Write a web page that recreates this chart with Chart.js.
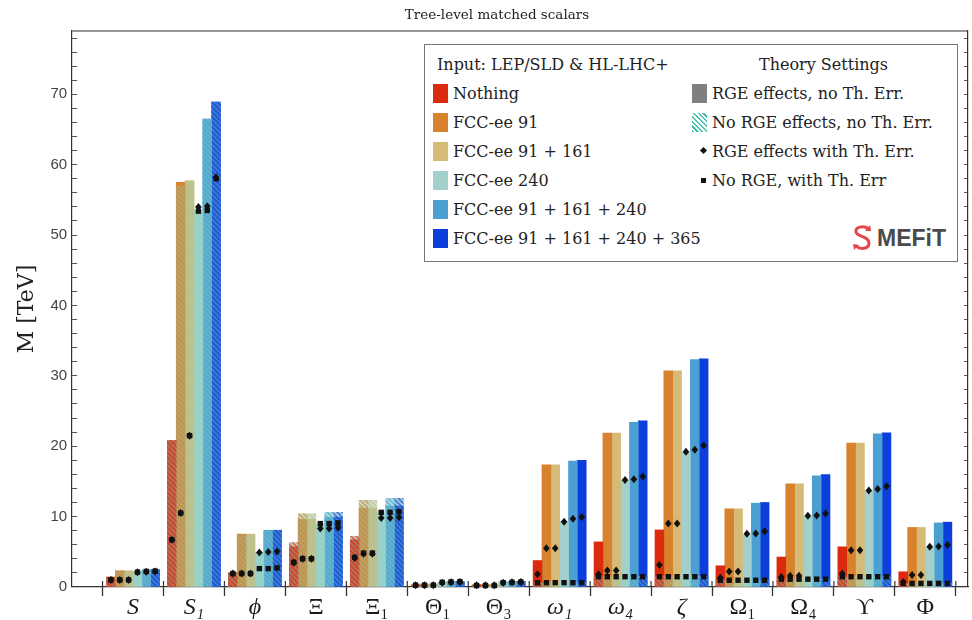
<!DOCTYPE html>
<html lang="en">
<head>
    <meta charset="UTF-8" />
    <title>Tree-level matched scalars</title>
    <script src="https://cdn.jsdelivr.net/npm/chart.js"></script>
    <style>
        html, body { margin: 0; padding: 0; background: #fff; }
        #wrap { position: relative; width: 972px; height: 620px; }
        #plotTitle {
            position: absolute; left: 0; top: 5px; width: 994px; text-align: center; line-height: 18px;
            font-family: "DejaVu Serif", serif; font-size: 13.5px; color: #222;
        }
        #legendBox {
            position: absolute; left: 424px; top: 44px; width: 532px; height: 216px;
            border: 1px solid #777; background: #fff;
            font-family: "DejaVu Serif", serif; font-size: 16px; color: #222;
        }
        #legendBox .row { position: absolute; height: 29px; line-height: 29px; white-space: nowrap; }
        #legendBox .sw { position: absolute; left: 0; top: 5px; width: 15px; height: 19px; }
        #legendBox .txt { position: absolute; left: 20px; top: 0; }
        .mk { position: absolute; background: #111; }
        #logo { position: absolute; left: 426px; top: 178px; height: 30px; }
        #logo span {
            position: absolute; left: 26px; top: 0; line-height: 30px;
            font-family: "Liberation Sans", sans-serif; font-weight: bold; font-size: 23px; color: #4a4a4a;
        }
    </style>
</head>
<body>
<div id="wrap">
    <canvas id="chart" width="972" height="620"></canvas>
    <div id="plotTitle">Tree-level matched scalars</div>
    <div id="legendBox"></div>
</div>

<script>
    const categories = ['S', 'S₁', 'ϕ', 'Ξ', 'Ξ₁', 'Θ₁', 'Θ₃', 'ω₁', 'ω₄', 'ζ', 'Ω₁', 'Ω₄', 'ϒ', 'Φ'];
    const italicLabels = ['S', 'S₁', 'ϕ', 'ω₁', 'ω₄', 'ζ'];
    const scenarios = ['Nothing', 'FCC-ee 91', 'FCC-ee 91 + 161', 'FCC-ee 240', 'FCC-ee 91 + 161 + 240', 'FCC-ee 91 + 161 + 240 + 365'];
    const colors = ['#dc2a0e', '#d9822e', '#d6ba77', '#a3d0cc', '#4c9fd2', '#0b3edb'];

    // RGE effects, no Th. Err. (solid bars)
    const rgeNothing = [1.4, 20.8, 2.0, 5.7, 6.7, 0.3, 0.3, 3.75, 6.4, 8.1, 3.0, 4.25, 5.7, 2.15];
    const rgeZ       = [2.3, 57.5, 7.5, 9.6, 11.2, 0.4, 0.35, 17.35, 21.85, 30.7, 11.1, 14.65, 20.45, 8.45];
    const rgeZWW     = [2.3, 57.7, 7.5, 9.6, 11.2, 0.4, 0.35, 17.35, 21.85, 30.7, 11.1, 14.65, 20.45, 8.45];
    const rgeH       = [2.1, 53.5, 4.9, 8.7, 10.4, 0.7, 0.7, 9.3, 15.2, 19.2, 7.5, 10.1, 13.7, 5.7];
    const rgeZWWH    = [2.4, 66.5, 8.05, 9.9, 11.5, 0.75, 0.75, 17.9, 23.4, 32.3, 11.9, 15.8, 21.75, 9.1];
    const rgeAll     = [2.45, 68.9, 8.05, 9.9, 11.5, 0.8, 0.8, 18.0, 23.6, 32.4, 12.0, 15.95, 21.9, 9.2];

    // No RGE effects, no Th. Err. (hatched bars)
    const noRgeNothing = [1.4, 20.8, 2.0, 6.3, 7.2, 0.3, 0.3, 0.6, 1.45, 1.45, 0.95, 1.1, 1.45, 0.5];
    const noRgeZ       = [2.2, 57.0, 7.4, 10.4, 12.3, 0.4, 0.35, 0.6, 1.45, 1.45, 0.95, 1.1, 1.45, 0.5];
    const noRgeZWW     = [2.2, 57.7, 7.4, 10.4, 12.3, 0.4, 0.35, 0.6, 1.45, 1.45, 0.95, 1.1, 1.45, 0.5];
    const noRgeH       = [2.1, 53.5, 4.9, 9.0, 10.8, 0.7, 0.7, 0.65, 1.5, 1.5, 1.0, 1.15, 1.5, 0.55];
    const noRgeZWWH    = [2.4, 66.5, 8.0, 10.6, 12.6, 0.75, 0.75, 0.65, 1.5, 1.5, 1.0, 1.15, 1.5, 0.55];
    const noRgeAll     = [2.45, 68.9, 8.05, 10.6, 12.6, 0.8, 0.8, 0.65, 1.5, 1.5, 1.0, 1.15, 1.5, 0.55];

    // RGE effects with Th. Err. (diamonds)
    const thRgeNothing = [1.0, 6.7, 1.9, 3.45, 4.1, 0.25, 0.25, 1.8, 1.8, 3.1, 1.3, 1.4, 1.9, 0.7];
    const thRgeZ       = [1.0, 10.5, 1.9, 4.0, 4.7, 0.25, 0.25, 5.5, 2.35, 9.0, 2.2, 1.6, 5.2, 1.7];
    const thRgeZWW     = [1.0, 21.5, 1.9, 4.0, 4.7, 0.25, 0.25, 5.5, 2.35, 9.0, 2.2, 1.6, 5.2, 1.7];
    const thRgeH       = [2.1, 54.0, 4.9, 8.3, 9.8, 0.6, 0.6, 9.25, 15.2, 19.2, 7.55, 10.1, 13.7, 5.7];
    const thRgeZWWH    = [2.15, 54.1, 4.95, 8.3, 9.8, 0.65, 0.65, 9.7, 15.3, 19.5, 7.6, 10.15, 13.9, 5.75];
    const thRgeAll     = [2.2, 58.2, 5.05, 8.4, 9.9, 0.7, 0.7, 9.95, 15.7, 20.1, 7.9, 10.45, 14.3, 5.95];

    // No RGE, with Th. Err (squares)
    const thNoRgeNothing = [1.0, 6.7, 1.9, 3.5, 4.2, 0.25, 0.2, 0.6, 1.45, 1.45, 0.95, 1.1, 1.45, 0.5];
    const thNoRgeZ       = [1.0, 10.5, 1.9, 4.0, 4.8, 0.25, 0.2, 0.6, 1.45, 1.45, 0.95, 1.1, 1.45, 0.5];
    const thNoRgeZWW     = [1.0, 21.5, 1.9, 4.0, 4.8, 0.25, 0.2, 0.6, 1.45, 1.45, 0.95, 1.1, 1.45, 0.5];
    const thNoRgeH       = [2.1, 53.4, 2.6, 9.0, 10.6, 0.65, 0.6, 0.6, 1.45, 1.45, 0.95, 1.1, 1.45, 0.5];
    const thNoRgeZWWH    = [2.2, 53.5, 2.6, 9.0, 10.6, 0.7, 0.65, 0.6, 1.45, 1.45, 0.95, 1.1, 1.45, 0.5];
    const thNoRgeAll     = [2.25, 58.0, 2.7, 9.1, 10.7, 0.75, 0.7, 0.6, 1.45, 1.45, 0.95, 1.1, 1.45, 0.5];

    const yTicks = [0, 10, 20, 30, 40, 50, 60, 70];

    const rgeBars = [rgeNothing, rgeZ, rgeZWW, rgeH, rgeZWWH, rgeAll];
    const noRgeBars = [noRgeNothing, noRgeZ, noRgeZWW, noRgeH, noRgeZWWH, noRgeAll];
    const thRge = [thRgeNothing, thRgeZ, thRgeZWW, thRgeH, thRgeZWWH, thRgeAll];
    const thNoRge = [thNoRgeNothing, thNoRgeZ, thNoRgeZWW, thNoRgeH, thNoRgeZWWH, thNoRgeAll];

    // diagonal hatch: half-transparent bar colour stripes with pale teal gaps,
    // so it reads as the bar colour over a solid bar and as a light teal hatch on white
    function hatch(color) {
        const c = document.createElement('canvas');
        c.width = 5; c.height = 5;
        const g = c.getContext('2d');
        g.fillStyle = 'rgba(130, 212, 196, 0.5)';
        g.fillRect(0, 0, 5, 5);
        g.globalAlpha = 0.6;
        g.strokeStyle = color;
        g.lineWidth = 2.4;
        g.beginPath();
        for (let k = -5; k <= 5; k += 5) {
            g.moveTo(k - 1, -1);
            g.lineTo(k + 6, 6);
        }
        g.stroke();
        return g.createPattern(c, 'repeat');
    }

    const points = arr => arr.map((v, i) => ({ x: i + 1, y: v }));

    const datasets = [];
    scenarios.forEach((name, k) => {
        const common = { stack: 's' + k, barThickness: 8.85, borderWidth: 0 };
        datasets.push({ ...common, label: name, data: points(rgeBars[k]), backgroundColor: colors[k], order: 2 });
        datasets.push({ ...common, label: name + ' (no RGE)', data: points(noRgeBars[k]), backgroundColor: hatch(colors[k]), order: 1 });
        datasets.push({ ...common, label: name + ' (RGE, Th. Err.)', data: points(thRge[k]), backgroundColor: 'rgba(0,0,0,0)', marker: 'diamond', order: 0 });
        datasets.push({ ...common, label: name + ' (no RGE, Th. Err.)', data: points(thNoRge[k]), backgroundColor: 'rgba(0,0,0,0)', marker: 'square', order: 0 });
    });

    // markers sit on top of the (invisible) bars of their dataset
    const markerPlugin = {
        id: 'markers',
        afterDatasetsDraw(chart) {
            const ctx = chart.ctx;
            ctx.save();
            ctx.fillStyle = '#111';
            chart.data.datasets.forEach((ds, i) => {
                if (!ds.marker) return;
                chart.getDatasetMeta(i).data.forEach(el => {
                    ctx.beginPath();
                    if (ds.marker === 'diamond') {
                        ctx.moveTo(el.x, el.y - 4);
                        ctx.lineTo(el.x + 3.3, el.y);
                        ctx.lineTo(el.x, el.y + 4);
                        ctx.lineTo(el.x - 3.3, el.y);
                        ctx.closePath();
                    } else {
                        ctx.rect(el.x - 2.7, el.y - 2.7, 5.4, 5.4);
                    }
                    ctx.fill();
                });
            });
            ctx.restore();
        }
    };

    // top edge of the frame, and the category dividers poking up through the x axis
    const framePlugin = {
        id: 'frame',
        afterDraw(chart) {
            const { ctx, chartArea: a } = chart;
            const xs = chart.scales.x;
            ctx.save();
            ctx.strokeStyle = '#333';
            ctx.lineWidth = 1.2;
            ctx.beginPath();
            ctx.moveTo(a.left, a.top);
            ctx.lineTo(a.right, a.top);
            xs.ticks.forEach(t => {
                if (Number.isInteger(t.value)) return;
                const px = xs.getPixelForValue(t.value);
                ctx.moveTo(px, a.bottom);
                ctx.lineTo(px, a.bottom - 6);
            });
            ctx.stroke();
            ctx.restore();
        }
    };

    new Chart(document.getElementById('chart'), {
        type: 'bar',
        data: { datasets },
        plugins: [markerPlugin, framePlugin],
        options: {
            responsive: false,
            animation: false,
            layout: { padding: { left: 0, right: 4, top: 31, bottom: 0 } },
            plugins: {
                legend: { display: false },
                tooltip: { enabled: false }
            },
            scales: {
                x: {
                    type: 'linear',
                    min: 0,
                    max: 14.7,
                    offset: false,
                    afterBuildTicks: axis => {
                        const t = [];
                        for (let k = 1; k <= categories.length * 2 + 1; k++) t.push({ value: k / 2 });
                        axis.ticks = t;
                    },
                    ticks: {
                        autoSkip: false,
                        maxRotation: 0,
                        padding: 1,
                        color: '#1a1a1a',
                        font: ctx => ({
                            family: 'Liberation Serif',
                            size: 24,
                            lineHeight: 0.92,
                            style: ctx.tick && italicLabels.includes(categories[ctx.tick.value - 1]) ? 'italic' : 'normal'
                        }),
                        callback: v => Number.isInteger(v) ? categories[v - 1] : ''
                    },
                    grid: {
                        offset: false,
                        drawOnChartArea: false,
                        tickLength: 9,
                        tickWidth: 1.3,
                        tickColor: ctx => ctx.tick && !Number.isInteger(ctx.tick.value) ? '#333' : 'rgba(0,0,0,0)'
                    },
                    border: { color: '#333', width: 1.2 }
                },
                y: {
                    min: 0,
                    max: 79,
                    stacked: false,
                    ticks: {
                        stepSize: 2,
                        maxTicksLimit: 100,
                        autoSkip: false,
                        includeBounds: false,
                        padding: 10,
                        color: '#444',
                        font: { family: 'Liberation Sans', size: 15 },
                        callback: v => yTicks.includes(v) ? v : ''
                    },
                    grid: { drawOnChartArea: false, tickLength: -5, tickColor: '#555' },
                    border: { color: '#333', width: 1.2 },
                    title: {
                        display: true,
                        text: 'M [TeV]',
                        font: { family: 'DejaVu Serif', size: 22 },
                        color: '#222',
                        padding: { top: 14, bottom: 0 }
                    }
                },
                y2: {
                    position: 'right',
                    min: 0,
                    max: 79,
                    ticks: { stepSize: 2, maxTicksLimit: 100, autoSkip: false, includeBounds: false, padding: 2, callback: () => '' },
                    grid: { drawOnChartArea: false, tickLength: -4, tickColor: '#555' },
                    border: { color: '#333', width: 1.2 }
                }
            }
        }
    });

    // legend box
    const box = document.getElementById('legendBox');
    function addRow(col, row, html) {
        const d = document.createElement('div');
        d.className = 'row';
        d.style.left = (col === 0 ? 8 : 267) + 'px';
        d.style.top = (5 + row * 29) + 'px';
        d.innerHTML = html;
        box.appendChild(d);
        return d;
    }
    const head1 = addRow(0, 0, 'Input: LEP/SLD &amp; HL-LHC+');
    head1.style.left = '12px';
    const head2 = addRow(1, 0, 'Theory Settings');
    head2.style.left = '334px';
    scenarios.forEach((name, k) => {
        addRow(0, k + 1, `<div class="sw" style="background:${colors[k]}"></div><div class="txt">${name}</div>`);
    });
    addRow(1, 1, '<div class="sw" style="background:#7f7f7f"></div><div class="txt">RGE effects, no Th. Err.</div>');
    addRow(1, 2, '<div class="sw" style="background:repeating-linear-gradient(45deg,#49c2ae 0 1.6px,#fff 1.6px 3.4px)"></div><div class="txt">No RGE effects, no Th. Err.</div>');
    addRow(1, 3, '<div class="mk" style="left:9px;top:11px;width:5px;height:5px;transform:rotate(45deg)"></div><div class="txt">RGE effects with Th. Err.</div>');
    addRow(1, 4, '<div class="mk" style="left:9px;top:12px;width:5px;height:5px"></div><div class="txt">No RGE, with Th. Err</div>');

    const logo = document.createElement('div');
    logo.id = 'logo';
    logo.innerHTML = `<svg width="24" height="30" viewBox="0 0 24 30">
        <path d="M18 6 C 12 2, 4 4, 5 9 C 6 14, 18 13, 18 20 C 18 26, 9 27, 5 23"
              fill="none" stroke="#e2474d" stroke-width="3" stroke-linecap="round"/>
        <path d="M19 2 L 20 8 L 14 8 Z" fill="#e2474d"/>
        <path d="M3 27 L 2 21 L 8 22 Z" fill="#e2474d"/>
    </svg><span>MEFiT</span>`;
    box.appendChild(logo);
</script>
</body>
</html>
